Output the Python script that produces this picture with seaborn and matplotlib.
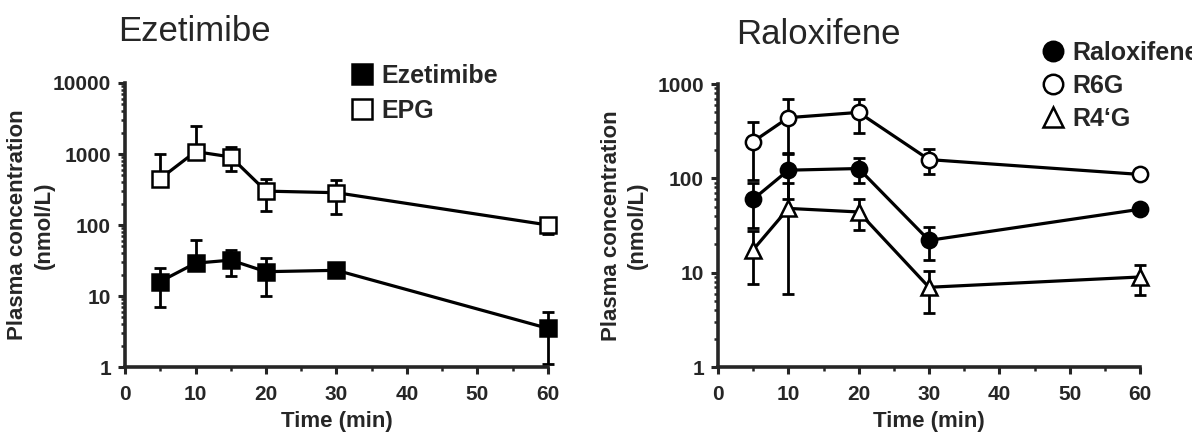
import numpy as np
import pandas as pd
import matplotlib
matplotlib.use("Agg")
import matplotlib.pyplot as plt
from matplotlib.lines import Line2D
from matplotlib.ticker import LogLocator, NullFormatter, MultipleLocator
import seaborn as sns

# --- data ---
time_eze = [5, 10, 15, 20, 30, 60]
eze = [16, 29, 32, 22, 23, 3.5]
eze_sd = [9, 33, 13, 12, 3, 2.4]
epg = [450, 1080, 910, 300, 285, 100]
epg_sd = [550, 1420, 330, 140, 140, 25]

time_ral = [5, 10, 20, 30, 60]
ral = [60, 122, 127, 22, 47]
ral_sd = [30, 62, 38, 8.5, 3]
r6g = [245, 440, 500, 158, 110]
r6g_sd = [150, 260, 200, 48, 6]
r4g = [17.5, 48, 44, 7.0, 9.0]
r4g_sd = [10, 42, 16, 3.3, 3.2]

sns.set_style("ticks")
plt.rcParams['font.family'] = ['Liberation Sans', 'DejaVu Sans']

W, H = 1192, 436
fig = plt.figure(figsize=(W / 100, H / 100), dpi=100)

ax1 = fig.add_axes([125 / W, 1 - 367 / H, (548 - 125) / W, (367 - 83) / H])
ax2 = fig.add_axes([718 / W, 1 - 367 / H, (1140 - 718) / W, (367 - 84) / H])

LW = 2.3


def draw_series(ax, t, y, sd, marker, face, ms=11):
    t = np.asarray(t, float)
    y = np.asarray(y, float)
    sd = np.asarray(sd, float)
    lower = np.where(y - sd > 0, sd, 0)  # bars below zero are not shown on log axis
    eb = ax.errorbar(t, y, yerr=[lower, sd], fmt='none', ecolor='black',
                     elinewidth=2.0, capsize=4.5, capthick=2.0, zorder=2)
    for art in eb.get_children():
        art.set_clip_on(False)
    sns.lineplot(x=t, y=y, ax=ax, color='black', linewidth=LW, marker=marker,
                 markersize=ms, markerfacecolor=face, markeredgecolor='black',
                 markeredgewidth=1.8, zorder=3, legend=False, clip_on=False)


draw_series(ax1, time_eze, eze, eze_sd, 's', 'black')
draw_series(ax1, time_eze, epg, epg_sd, 's', 'white')

draw_series(ax2, time_ral, ral, ral_sd, 'o', 'black')
draw_series(ax2, time_ral, r6g, r6g_sd, 'o', 'white')
draw_series(ax2, time_ral, r4g, r4g_sd, '^', 'white', ms=12)

for ax, ytop in [(ax1, 10000), (ax2, 1000)]:
    ax.set_yscale('log')
    ax.set_ylim(1, ytop)
    ax.set_xlim(0, 60)
    ax.xaxis.set_major_locator(MultipleLocator(10))
    ax.xaxis.set_minor_locator(MultipleLocator(5))
    decades = [10 ** k for k in range(0, int(np.log10(ytop)) + 1)]
    ax.set_yticks(decades)
    ax.set_yticklabels([str(d) for d in decades])
    ax.yaxis.set_minor_locator(LogLocator(base=10, subs=np.arange(2, 10)))
    ax.yaxis.set_minor_formatter(NullFormatter())
    sns.despine(ax=ax)
    for s in ['left', 'bottom']:
        ax.spines[s].set_linewidth(2.6)
    ax.tick_params(which='major', direction='out', length=5, width=2.2,
                   labelsize=15, pad=5)
    ax.tick_params(which='minor', direction='out', length=3, width=1.8)
    ax.tick_params(axis='x', which='major', pad=8)
    for lab in ax.get_xticklabels() + ax.get_yticklabels():
        lab.set_fontweight('bold')
    ax.set_xlabel('Time (min)', fontsize=16, fontweight='bold', labelpad=5)
    ax.set_ylabel('Plasma concentration\n(nmol/L)', fontsize=16, fontweight='bold',
                  ha='center', va='center', linespacing=1.35)
    ax.yaxis.set_label_coords(-0.222, 0.5)

fig.text(118 / W, 1 - 41 / H, 'Ezetimibe', fontsize=25, va='baseline', ha='left')
fig.text(736 / W, 1 - 44 / H, 'Raloxifene', fontsize=25, va='baseline', ha='left')

leg_font = {'size': 18, 'weight': 'bold'}
h1 = [Line2D([], [], ls='none', marker='s', ms=14.5, mfc='black', mec='black', mew=1.8),
      Line2D([], [], ls='none', marker='s', ms=14.5, mfc='white', mec='black', mew=1.8)]
fig.legend(h1, ['Ezetimibe', 'EPG'], loc='upper left',
           bbox_to_anchor=(349 / W, 1 - 64 / H), frameon=False,
           prop=leg_font, handlelength=1.0,
           handletextpad=0.3, labelspacing=0.42, borderpad=0, borderaxespad=0)

# the reference legend runs past the right edge of the figure ("Raloxifen...")
h2 = [Line2D([], [], ls='none', marker='o', ms=14, mfc='black', mec='black', mew=1.8),
      Line2D([], [], ls='none', marker='o', ms=14, mfc='white', mec='black', mew=1.8),
      Line2D([], [], ls='none', marker='^', ms=15, mfc='white', mec='black', mew=1.8)]
fig.legend(h2, ['Raloxifene', 'R6G', 'R4\u2018G'], loc='upper left',
           bbox_to_anchor=(1040 / W, 1 - 41 / H), frameon=False,
           prop=leg_font, handlelength=1.0,
           handletextpad=0.3, labelspacing=0.36, borderpad=0, borderaxespad=0)

fig.savefig('out.png', dpi=100, facecolor='white')
